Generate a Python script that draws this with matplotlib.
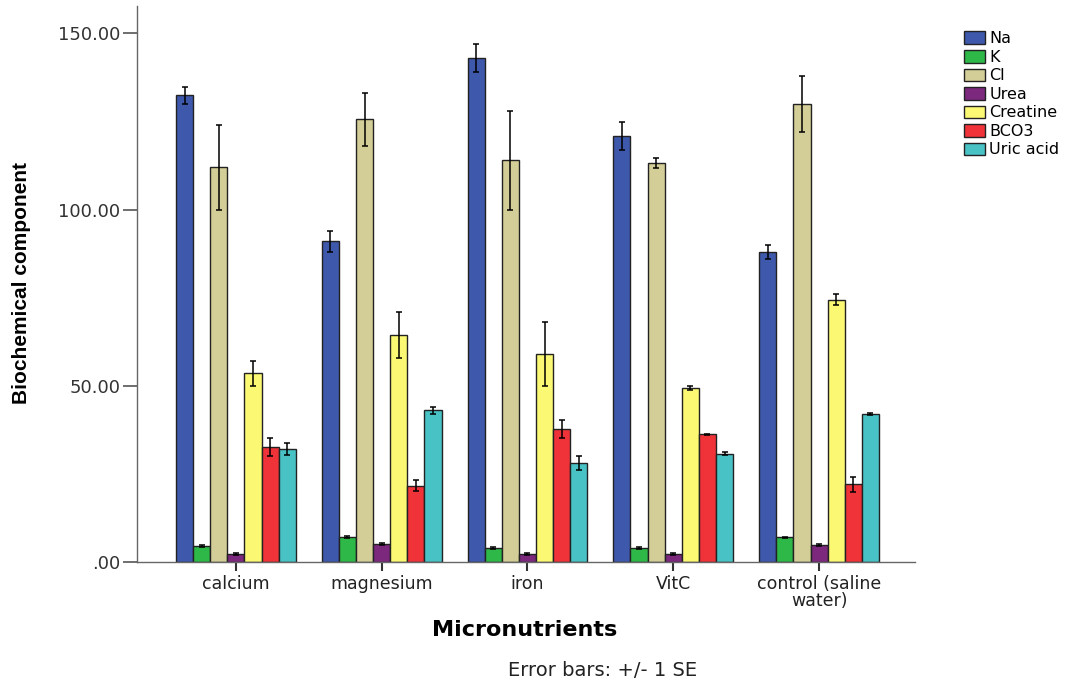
import numpy as np
import matplotlib
matplotlib.use('Agg')
import matplotlib.pyplot as plt

plt.rcParams['font.family'] = ['DejaVu Sans']

# 数据（从图中读取的均值与标准误）
groups = ['calcium', 'magnesium', 'iron', 'VitC', 'control (saline\nwater)']
series = ['Na', 'K', 'Cl', 'Urea', 'Creatine', 'BCO3', 'Uric acid']

na = [132.4, 91.0, 143.1, 120.9, 88.0]
na_se = [2.5, 3.0, 4.0, 4.0, 2.0]
k = [4.6, 7.1, 4.0, 4.0, 7.0]
k_se = [0.3, 0.2, 0.2, 0.2, 0.2]
cl = [112.0, 125.6, 114.0, 113.3, 129.9]
cl_se = [12.0, 7.5, 14.0, 1.5, 8.0]
urea = [2.3, 5.2, 2.3, 2.2, 4.8]
urea_se = [0.2, 0.3, 0.2, 0.3, 0.4]
creatine = [53.5, 64.5, 59.0, 49.4, 74.5]
creatine_se = [3.5, 6.5, 9.0, 0.5, 1.5]
bco3 = [32.6, 21.7, 37.7, 36.2, 22.0]
bco3_se = [2.6, 1.6, 2.6, 0.2, 2.0]
uric = [32.0, 43.1, 28.2, 30.7, 41.9]
uric_se = [1.7, 1.0, 2.0, 0.4, 0.3]

colors = ['#3E58AC', '#2EB848', '#D3CE97', '#7C287D', '#FBF873', '#EF3338', '#48C2C5']

means = [na, k, cl, urea, creatine, bco3, uric]
ses = [na_se, k_se, cl_se, urea_se, creatine_se, bco3_se, uric_se]

fig = plt.figure(figsize=(10.73, 6.85), dpi=100)
ax = fig.add_axes([137 / 1073, 1 - 562 / 685, (915 - 137) / 1073, (562 - 6) / 685])

x = np.arange(len(groups))
width = 0.1174
for i, (name, m, s, c) in enumerate(zip(series, means, ses, colors)):
    pos = x + (i - 3) * width
    ax.bar(pos, m, width, color=c, edgecolor='#222222', linewidth=1.0, label=name)
    ax.errorbar(pos, m, yerr=s, fmt='none', ecolor='black', elinewidth=1.1,
                capsize=2, capthick=1.1)

ax.set_xlim(-0.678, 4.658)
ax.set_ylim(0, 157.8)
ax.set_yticks([0, 50, 100, 150])
ax.set_yticklabels(['.00', '50.00', '100.00', '150.00'], fontsize=13, color='#333333')
ax.set_xticks(x)
ax.set_xticklabels(groups, fontsize=12.5, color='#222222', linespacing=0.9)
ax.tick_params(axis='y', length=10, width=1.2, color='#555555', pad=2)
ax.tick_params(axis='x', length=6.5, width=1.5, color='#333333', pad=3)

for side in ['top', 'right']:
    ax.spines[side].set_visible(False)
for side in ['left', 'bottom']:
    ax.spines[side].set_color('#666666')
    ax.spines[side].set_linewidth(1.0)

fig.text(22 / 1073, 1 - 283 / 685, 'Biochemical component', rotation=90,
         ha='center', va='center', fontsize=15, fontweight='bold',
         family=['Liberation Sans Narrow', 'Liberation Sans', 'DejaVu Sans'])
fig.text(525 / 1073, 1 - 630 / 685, 'Micronutrients', ha='center', va='center',
         fontsize=16, fontweight='bold')
fig.text(603 / 1073, 1 - 671 / 685, 'Error bars: +/- 1 SE', ha='center', va='center',
         fontsize=14, color='#222222')

fig.legend(loc='upper left', bbox_to_anchor=(958 / 1073, 1 - 25 / 685),
           frameon=False, fontsize=11.5, handlelength=1.3, handleheight=0.85,
           handletextpad=0.25, labelspacing=0.22, borderaxespad=0)

plt.savefig('out.png', dpi=100)
